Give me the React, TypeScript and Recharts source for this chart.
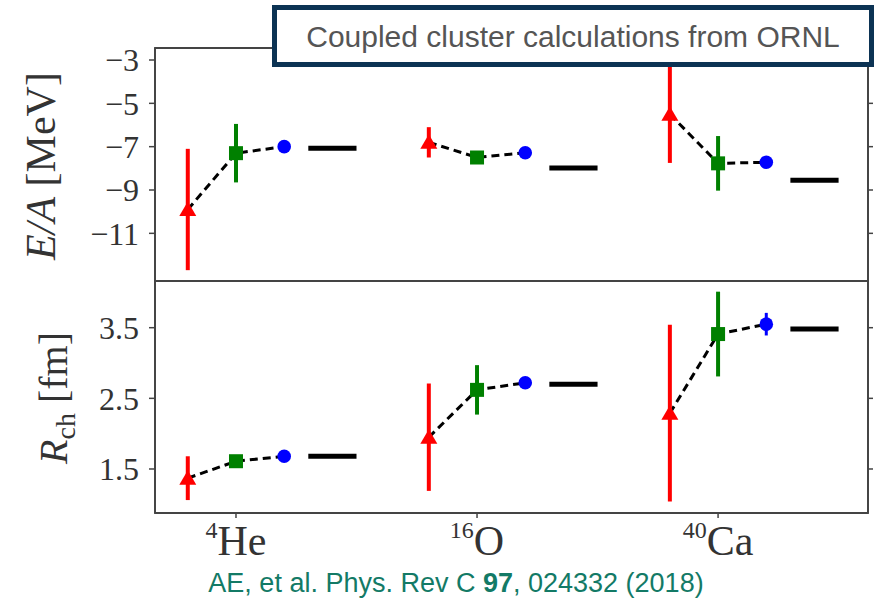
import React from "react";
import { ComposedChart, Scatter, Line, XAxis, YAxis, ErrorBar, ReferenceArea } from "recharts";

// Nuclei along the x axis
const nuclei = ["He", "O", "Ca"];
const massNumbers = ["4", "16", "40"];
const nucleusPos = [0, 1, 2];

// Binding energy per nucleon E/A [MeV]
const energyRed = [-9.9, -6.8, -5.5];
const energyRedErr = [2.8, 0.7, 2.25];
const energyGreen = [-7.3, -7.5, -7.77];
const energyGreenErr = [1.35, 0.3, 1.26];
const energyBlue = [-7.0, -7.28, -7.72];
const energyBlueErr = [0.05, 0.05, 0.05];
const energyExp = [-7.07, -7.98, -8.55];
const energyTicks = [-3, -5, -7, -9, -11];

// Charge radius R_ch [fm]
const radiusRed = [1.37, 1.95, 2.29];
const radiusRedErr = [0.31, 0.76, 1.25];
const radiusGreen = [1.61, 2.62, 3.41];
const radiusGreenErr = [0.05, 0.35, 0.6];
const radiusBlue = [1.68, 2.72, 3.55];
const radiusBlueErr = [0.02, 0.02, 0.16];
const radiusExp = [1.68, 2.7, 3.48];
const radiusTicks = [1.5, 2.5, 3.5];

// Layout constants
const W = 877;
const H = 604;
const X_DOMAIN: [number, number] = [-0.336, 2.622];
const OFF_RED = -0.2;
const OFF_GREEN = 0;
const OFF_BLUE = 0.2;
const EXP_FROM = 0.3;
const EXP_TO = 0.5;
const SERIF = "'Liberation Serif', 'DejaVu Serif', serif";
const SANS = "'Liberation Sans', Arial, sans-serif";
const AXIS = { stroke: "#444", strokeWidth: 1.8 };
const TEXT = "#333";

const Triangle = (p: any) => (
  <polygon
    points={`${p.cx},${p.cy - 8} ${p.cx - 8.5},${p.cy + 6.5} ${p.cx + 8.5},${p.cy + 6.5}`}
    fill="#ff0000"
  />
);
const Square = (p: any) => (
  <rect x={p.cx - 7} y={p.cy - 7} width={14} height={14} fill="#008000" />
);
const Dot = (p: any) => <circle cx={p.cx} cy={p.cy} r={6.8} fill="#0000ff" />;
const Nothing = () => null;

const CategoryTick = (p: any) => {
  const i = nucleusPos.indexOf(p.payload.value);
  if (i < 0) return null;
  return (
    <text x={p.x} y={p.y + 35} textAnchor="middle" fontFamily={SERIF} fill={TEXT}>
      <tspan fontSize={24} dy={-17}>
        {massNumbers[i]}
      </tspan>
      <tspan fontSize={42} dy={17}>
        {nuclei[i]}
      </tspan>
    </text>
  );
};

type PanelProps = {
  height: number;
  top: number;
  bottom: number;
  domain: [number, number];
  ticks: number[];
  fmt: (v: number) => string;
  red: number[];
  redErr: number[];
  green: number[];
  greenErr: number[];
  blue: number[];
  blueErr: number[];
  exp: number[];
  showCategories: boolean;
};

function Panel(props: PanelProps) {
  const mk = (vals: number[], errs: number[], off: number) =>
    nucleusPos.map((p, i) => ({ x: p + off, y: vals[i], err: errs[i] }));
  const redPts = mk(props.red, props.redErr, OFF_RED);
  const greenPts = mk(props.green, props.greenErr, OFF_GREEN);
  const bluePts = mk(props.blue, props.blueErr, OFF_BLUE);
  return (
    <ComposedChart
      width={W}
      height={props.height}
      margin={{ top: props.top, right: 0, bottom: props.bottom, left: 0 }}
    >
      <XAxis
        xAxisId="x"
        dataKey="x"
        type="number"
        domain={X_DOMAIN}
        allowDataOverflow
        ticks={nucleusPos}
        hide={!props.showCategories}
        height={91}
        axisLine={AXIS}
        tickLine={{ stroke: "#444", strokeWidth: 1.5 }}
        tickSize={5}
        tick={<CategoryTick />}
        interval={0}
      />
      <YAxis
        yAxisId="y"
        dataKey="y"
        type="number"
        domain={props.domain}
        allowDataOverflow
        ticks={props.ticks}
        interval={0}
        width={155}
        axisLine={AXIS}
        tickLine={{ stroke: "#444", strokeWidth: 1.5 }}
        tickSize={6}
        tickMargin={10}
        tickFormatter={props.fmt}
        tick={{ fontSize: 32, fontFamily: SERIF, fill: TEXT }}
      />
      <YAxis
        yAxisId="right"
        dataKey="y"
        orientation="right"
        type="number"
        domain={props.domain}
        allowDataOverflow
        ticks={props.ticks}
        interval={0}
        width={9}
        axisLine={AXIS}
        tickLine={{ stroke: "#444", strokeWidth: 1.5 }}
        tickSize={5}
        tickFormatter={() => ""}
      />
      {/* Panel frame */}
      <ReferenceArea
        xAxisId="x"
        yAxisId="y"
        x1={X_DOMAIN[0]}
        x2={X_DOMAIN[1]}
        y1={props.domain[0]}
        y2={props.domain[1]}
        fill="none"
        fillOpacity={0}
        stroke="#444"
        strokeWidth={1.8}
        ifOverflow="visible"
      />
      {/* Invisible series so the right-hand tick axis has data bound to it */}
      <Scatter
        xAxisId="x"
        yAxisId="right"
        data={bluePts}
        dataKey="y"
        shape={Nothing}
        isAnimationActive={false}
      />
      {nucleusPos.map((p, i) => (
        <Line
          key={`chain-${i}`}
          xAxisId="x"
          yAxisId="y"
          data={[redPts[i], greenPts[i], bluePts[i]]}
          dataKey="y"
          stroke="#000"
          strokeWidth={3}
          strokeDasharray="8 5"
          dot={false}
          activeDot={false}
          isAnimationActive={false}
        />
      ))}
      <Scatter
        xAxisId="x"
        yAxisId="y"
        data={redPts}
        dataKey="y"
        shape={Triangle}
        isAnimationActive={false}
      >
        <ErrorBar dataKey="err" direction="y" width={0} stroke="#ff0000" strokeWidth={4} />
      </Scatter>
      <Scatter
        xAxisId="x"
        yAxisId="y"
        data={greenPts}
        dataKey="y"
        shape={Square}
        isAnimationActive={false}
      >
        <ErrorBar dataKey="err" direction="y" width={0} stroke="#008000" strokeWidth={4} />
      </Scatter>
      <Scatter
        xAxisId="x"
        yAxisId="y"
        data={bluePts}
        dataKey="y"
        shape={Dot}
        isAnimationActive={false}
      >
        <ErrorBar dataKey="err" direction="y" width={0} stroke="#0000ff" strokeWidth={3} />
      </Scatter>
      {nucleusPos.map((p, i) => (
        <Line
          key={`exp-${i}`}
          xAxisId="x"
          yAxisId="y"
          data={[
            { x: p + EXP_FROM, y: props.exp[i] },
            { x: p + EXP_TO, y: props.exp[i] },
          ]}
          dataKey="y"
          stroke="#000"
          strokeWidth={5}
          dot={false}
          activeDot={false}
          isAnimationActive={false}
        />
      ))}
    </ComposedChart>
  );
}

const minusFmt = (v: number) => (v < 0 ? `\u2212${Math.abs(v)}` : String(v));
const oneDecimal = (v: number) => v.toFixed(1);

export default function App() {
  return (
    <div style={{ position: "absolute", left: 0, top: 0, width: W, height: H, background: "#fff" }}>
      <div style={{ position: "absolute", left: 0, top: 0 }}>
        <Panel
          height={300}
          top={48}
          bottom={19}
          domain={[-13.2, -2.446]}
          ticks={energyTicks}
          fmt={minusFmt}
          red={energyRed}
          redErr={energyRedErr}
          green={energyGreen}
          greenErr={energyGreenErr}
          blue={energyBlue}
          blueErr={energyBlueErr}
          exp={energyExp}
          showCategories={false}
        />
      </div>
      <div style={{ position: "absolute", left: 0, top: 0 }}>
        <Panel
          height={H}
          top={281}
          bottom={0}
          domain={[0.877, 4.161]}
          ticks={radiusTicks}
          fmt={oneDecimal}
          red={radiusRed}
          redErr={radiusRedErr}
          green={radiusGreen}
          greenErr={radiusGreenErr}
          blue={radiusBlue}
          blueErr={radiusBlueErr}
          exp={radiusExp}
          showCategories={true}
        />
      </div>
      <svg
        width={W}
        height={H}
        style={{ position: "absolute", left: 0, top: 0, pointerEvents: "none" }}
      >
        <text
          transform="translate(55,166) rotate(-90)"
          textAnchor="middle"
          fontFamily={SERIF}
          fontSize={42}
          fill={TEXT}
        >
          <tspan fontStyle="italic">E/A</tspan>
          <tspan> [MeV]</tspan>
        </text>
        <text
          transform="translate(67,398) rotate(-90)"
          textAnchor="middle"
          fontFamily={SERIF}
          fontSize={40}
          fill={TEXT}
        >
          <tspan fontStyle="italic">R</tspan>
          <tspan fontSize={28} dy={8}>
            ch
          </tspan>
          <tspan dy={-8}> [fm]</tspan>
        </text>
        <rect
          x={274.5}
          y={7.5}
          width={597}
          height={57}
          fill="#fff"
          stroke="#0c3354"
          strokeWidth={5}
        />
        <text x={573} y={47} textAnchor="middle" fontFamily={SANS} fontSize={30} fill="#555">
          Coupled cluster calculations from ORNL
        </text>
        <text x={456} y={592} textAnchor="middle" fontFamily={SANS} fontSize={27} fill="#137a66">
          AE, et al. Phys. Rev C <tspan fontWeight="bold">97</tspan>, 024332 (2018)
        </text>
      </svg>
    </div>
  );
}
